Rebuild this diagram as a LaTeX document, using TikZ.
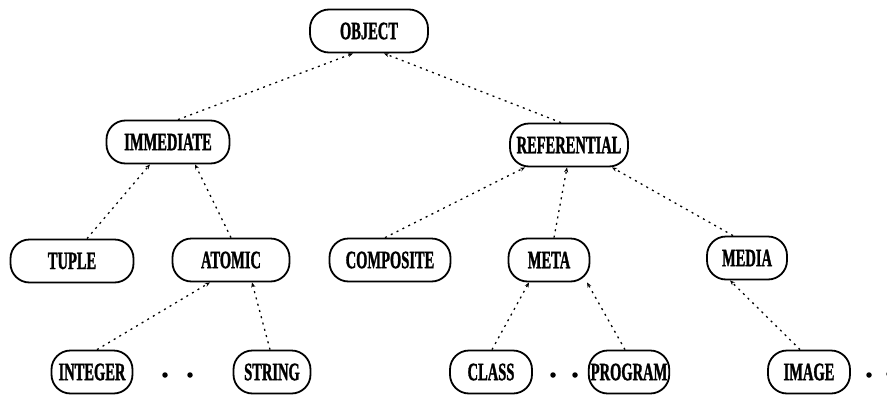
\documentclass[tikz,border=0pt]{standalone}
\usepackage{fontspec}
\setmainfont[FakeStretch=0.58,BoldFeatures={FakeBold=1.2}]{Liberation Serif}
\usetikzlibrary{arrows.meta}
\begin{document}
\begin{tikzpicture}[x=1pt,y=-1pt,
  box/.style={draw=black,line width=1.8pt,rounded corners=19pt,minimum height=43pt,
    inner sep=2pt,font=\fontsize{25}{25}\selectfont\bfseries},
  link/.style={line width=1.3pt,dash pattern=on 2pt off 4.5pt,
    -{Stealth[length=5pt,width=4pt]}},
  dotnode/.style={circle,fill=black,inner sep=0pt,minimum size=5.5pt}]
\useasboundingbox (0,0) rectangle (887,394);
\node[box,minimum width=118pt] (obj) at (369,31) {OBJECT};
\node[box,minimum width=123pt] (imm) at (168,142) {IMMEDIATE};
\node[box,minimum width=118pt] (ref) at (569,145) {REFERENTIAL};
\node[box,minimum width=123pt] (tup) at (72,261) {TUPLE};
\node[box,minimum width=117pt] (ato) at (231,260) {ATOMIC};
\node[box,minimum width=121pt] (com) at (390,260) {COMPOSITE};
\node[box,minimum width=81pt] (met) at (549,260) {META};
\node[box,minimum width=80pt] (med) at (747,258) {MEDIA};
\node[box,minimum width=81pt] (int) at (92,372) {INTEGER};
\node[box,minimum width=77pt] (str) at (272,372) {STRING};
\node[box,minimum width=82pt] (cla) at (491,372) {CLASS};
\node[box,minimum width=78pt] (pro) at (629,372) {PROGRAM};
\node[box,minimum width=82pt] (img) at (809,372) {IMAGE};
\node[dotnode] (d1) at (165,375) {};
\node[dotnode] (d2) at (190,375) {};
\node[dotnode] (d3) at (553,375) {};
\node[dotnode] (d4) at (575,375) {};
\node[dotnode] (d5) at (869,375) {};
\node[dotnode] (d6) at (889,374) {};
\draw[link] ([xshift=10]imm.north) -- ([xshift=-16]obj.south);
\draw[link] ([xshift=-8]ref.north) -- ([xshift=15]obj.south);
\draw[link] ([xshift=15]tup.north) -- ([xshift=-18]imm.south);
\draw[link] ([xshift=0]ato.north) -- ([xshift=27]imm.south);
\draw[link] ([xshift=-5]com.north) -- ([xshift=-44]ref.south);
\draw[link] ([xshift=5]met.north) -- ([xshift=-2]ref.south);
\draw[link] ([xshift=-14]med.north) -- ([xshift=43]ref.south);
\draw[link] ([xshift=5]int.north) -- ([xshift=-21]ato.south);
\draw[link] ([xshift=-2]str.north) -- ([xshift=21]ato.south);
\draw[link] ([xshift=1]cla.north) -- ([xshift=-20]met.south);
\draw[link] ([xshift=-4]pro.north) -- ([xshift=38]met.south);
\draw[link] ([xshift=-9]img.north) -- ([xshift=-17]med.south);
\end{tikzpicture}
\end{document}
